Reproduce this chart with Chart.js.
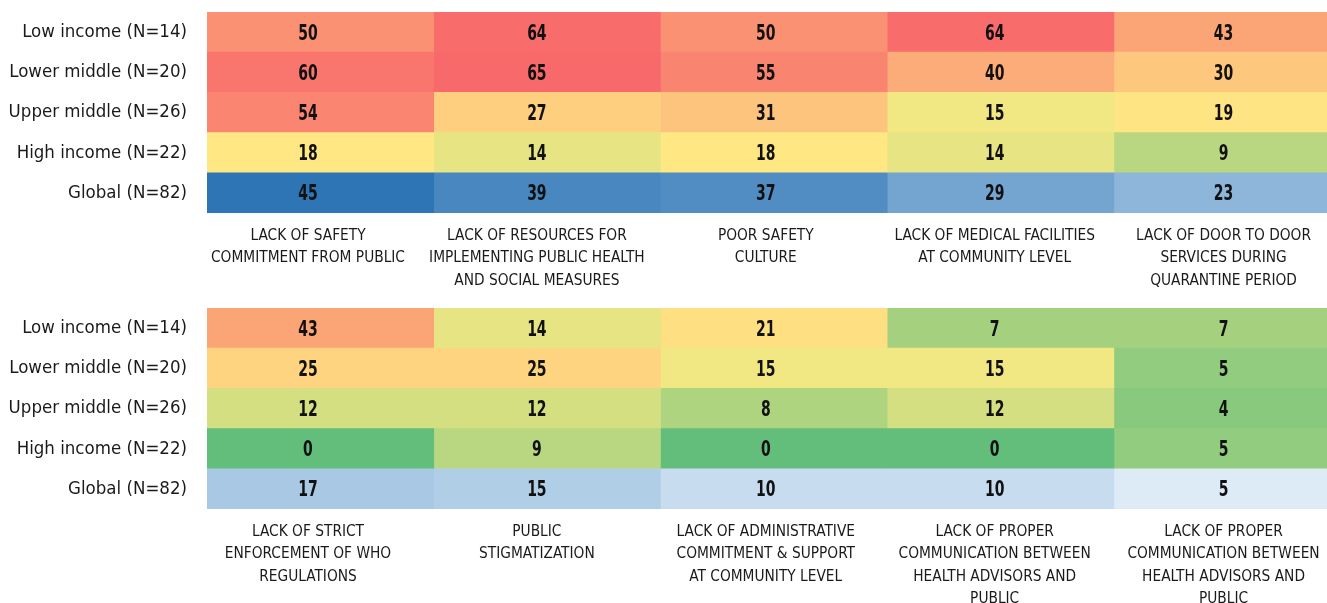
<!DOCTYPE html>
<html>
<head>
<meta charset="utf-8">
<script src="https://cdn.jsdelivr.net/npm/chart.js@4.4.1/dist/chart.umd.min.js"></script>
<style>
  html, body { margin: 0; padding: 0; background: #fff; width: 1327px; height: 603px; overflow: hidden; }
  .box { position: absolute; left: 0; width: 1327px; }
  #box1 { top: 0; height: 300px; }
  #box2 { top: 296px; height: 307px; }
</style>
</head>
<body>
<div class="box" id="box1"><canvas id="c1"></canvas></div>
<div class="box" id="box2"><canvas id="c2"></canvas></div>
<script>
// ---------- data ----------
const rowLabels = ['Low income (N=14)', 'Lower middle (N=20)', 'Upper middle (N=26)', 'High income (N=22)', 'Global (N=82)'];

const topCategories = [
  ['LACK OF SAFETY', 'COMMITMENT FROM PUBLIC'],
  ['LACK OF RESOURCES FOR', 'IMPLEMENTING PUBLIC HEALTH', 'AND SOCIAL MEASURES'],
  ['POOR SAFETY', 'CULTURE'],
  ['LACK OF MEDICAL FACILITIES', 'AT COMMUNITY LEVEL'],
  ['LACK OF DOOR TO DOOR', 'SERVICES DURING', 'QUARANTINE PERIOD']
];
const bottomCategories = [
  ['LACK OF STRICT', 'ENFORCEMENT OF WHO', 'REGULATIONS'],
  ['PUBLIC', 'STIGMATIZATION'],
  ['LACK OF ADMINISTRATIVE', 'COMMITMENT & SUPPORT', 'AT COMMUNITY LEVEL'],
  ['LACK OF PROPER', 'COMMUNICATION BETWEEN', 'HEALTH ADVISORS AND', 'PUBLIC'],
  ['LACK OF PROPER', 'COMMUNICATION BETWEEN', 'HEALTH ADVISORS AND', 'PUBLIC']
];

const topLowIncome   = [50, 64, 50, 64, 43];
const topLowerMiddle = [60, 65, 55, 40, 30];
const topUpperMiddle = [54, 27, 31, 15, 19];
const topHighIncome  = [18, 14, 18, 14, 9];
const topGlobal      = [45, 39, 37, 29, 23];

const botLowIncome   = [43, 14, 21, 7, 7];
const botLowerMiddle = [25, 25, 15, 15, 5];
const botUpperMiddle = [12, 12, 8, 12, 4];
const botHighIncome  = [0, 9, 0, 0, 5];
const botGlobal      = [17, 15, 10, 10, 5];

const topRows = [topLowIncome, topLowerMiddle, topUpperMiddle, topHighIncome, topGlobal];
const botRows = [botLowIncome, botLowerMiddle, botUpperMiddle, botHighIncome, botGlobal];

// ---------- colour scales ----------
const incomeValues = [...topRows.slice(0, 4).flat(), ...botRows.slice(0, 4).flat()];
const globalValues = [...topGlobal, ...botGlobal];
function median(a) { const s = [...a].sort((x, y) => x - y); const m = s.length / 2; return s.length % 2 ? s[Math.floor(m)] : (s[m - 1] + s[m]) / 2; }
const incMin = Math.min(...incomeValues), incMax = Math.max(...incomeValues), incMid = median(incomeValues);
const gMin = Math.min(...globalValues), gMax = Math.max(...globalValues);
const GREEN = [99, 190, 123], YELLOW = [255, 235, 132], RED = [248, 105, 107];
const BLUE_LIGHT = [221, 235, 247], BLUE_DARK = [46, 117, 182];
function mix(a, b, t) { return 'rgb(' + a.map((v, i) => Math.round(v + (b[i] - v) * t)).join(',') + ')'; }
function incomeColor(v) {
  if (v <= incMid) return mix(GREEN, YELLOW, (v - incMin) / (incMid - incMin));
  return mix(YELLOW, RED, (v - incMid) / (incMax - incMid));
}
function globalColor(v) { return mix(BLUE_LIGHT, BLUE_DARK, (v - gMin) / (gMax - gMin)); }
function cellColor(rowIndex, v) { return rowIndex === 4 ? globalColor(v) : incomeColor(v); }

// ---------- fonts ----------
const COND = "'DejaVu Sans Condensed', 'Liberation Sans', sans-serif";

const valueLabels = {
  id: 'valueLabels',
  afterDatasetsDraw(chart) {
    const rows = chart.config.options.plugins.valueLabels.rows;
    const xs = chart.scales.xt, ys = chart.scales.y;
    const ctx = chart.ctx;
    ctx.save();
    ctx.font = "bold 21px " + COND;
    ctx.fillStyle = '#111';
    ctx.textAlign = 'center';
    ctx.textBaseline = 'middle';
    rows.forEach((row, i) => {
      row.forEach((v, j) => {
        ctx.save();
        ctx.translate(xs.getPixelForValue(j + 0.5), ys.getPixelForValue(i) + 2);
        ctx.scale(0.74, 1);
        ctx.fillText(String(v), 0, 0);
        ctx.restore();
      });
    });
    ctx.restore();
  }
};

function makeChart(canvasId, rows, categories, axisHeight) {
  const datasets = categories.map((c, j) => ({
    data: rows.map(() => [j, j + 1]),
    backgroundColor: rows.map((r, i) => cellColor(i, r[j])),
    borderWidth: 0,
    barPercentage: 1,
    categoryPercentage: 1,
    grouped: false,
    xAxisID: 'x',
    yAxisID: 'y'
  }));
  return new Chart(document.getElementById(canvasId), {
    type: 'bar',
    data: { labels: rowLabels, datasets },
    plugins: [valueLabels],
    options: {
      indexAxis: 'y',
      responsive: true,
      maintainAspectRatio: false,
      animation: false,
      layout: { padding: { top: 12, left: 0, right: 0, bottom: 0 } },
      plugins: {
        legend: { display: false },
        tooltip: { enabled: false },
        valueLabels: { rows }
      },
      scales: {
        x: { type: 'linear', min: 0, max: 4.94, display: false },
        xt: {
          type: 'linear', position: 'bottom', min: 0.0588, max: 4.952,
          afterBuildTicks: (axis) => { axis.ticks = categories.map((c, j) => ({ value: j + 0.5 })); },
          afterFit: (s) => { s.height = axisHeight; s.paddingLeft = 0; s.paddingRight = 0; },
          grid: { display: false, drawTicks: false },
          border: { display: false },
          ticks: {
            autoSkip: false, maxRotation: 0, minRotation: 0,
            padding: 11.5,
            color: '#1a1a1a',
            font: { family: COND, size: 15.3, lineHeight: 1.47 },
            callback: (v, i) => categories[i]
          }
        },
        y: {
          type: 'category',
          afterFit: (s) => { s.width = 207; s.paddingTop = 0; s.paddingBottom = 0; },
          grid: { display: false, drawTicks: false },
          border: { display: false },
          ticks: {
            padding: 20,
            color: '#1a1a1a',
            font: { family: COND, size: 18.5 }
          }
        }
      }
    }
  });
}

makeChart('c1', topRows, topCategories, 87);
makeChart('c2', botRows, bottomCategories, 94);
</script>
</body>
</html>
